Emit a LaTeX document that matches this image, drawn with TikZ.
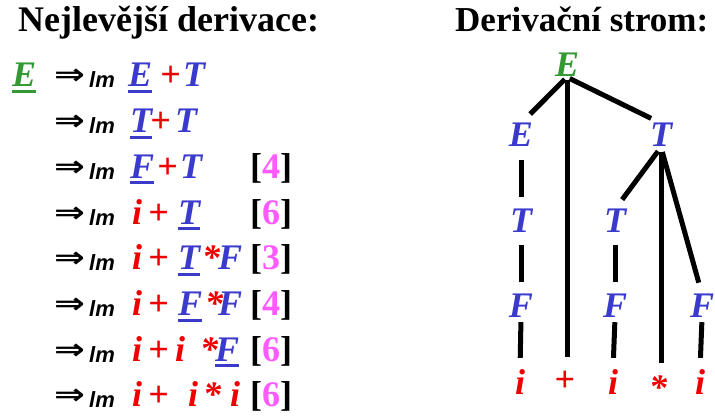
\documentclass[tikz,border=0pt]{standalone}
\usepackage{graphicx}
\usepackage{fontspec}
\setmainfont{Liberation Serif}
\newfontfamily\lmfont{Liberation Sans}
\newfontfamily\djv{DejaVu Sans}
\definecolor{ublue}{RGB}{58,58,204}
\definecolor{ured}{RGB}{238,0,0}
\definecolor{ugreen}{RGB}{51,153,51}
\definecolor{upink}{RGB}{255,90,255}
\newcommand\putat[2]{\rlap{\hspace*{#1pt}#2}}
\newcommand\ulx[2]{\setbox0=\hbox{#2}\rlap{\color{#1}\rule[-6pt]{\wd0}{3pt}}\box0}
\newcommand\Bl[1]{\textcolor{ublue}{#1}}
\newcommand\Rd[1]{\textcolor{ured}{#1}}
\newcommand\UB[1]{\ulx{ublue}{\textcolor{ublue}{#1}}}
\newcommand\Num[1]{[\textcolor{upink}{#1}]}
\begin{document}
\begin{tikzpicture}[x=1pt,y=-1pt,
  txt/.style={inner sep=0pt,anchor=base west,font=\fontsize{36}{40}\selectfont\bfseries\itshape},
  ttl/.style={inner sep=0pt,anchor=base west,font=\fontsize{36}{40}\selectfont\bfseries},
  brk/.style={inner sep=0pt,anchor=base west,font=\fontsize{36}{40}\selectfont\bfseries},
  arr/.style={inner sep=0pt,anchor=base west,font=\djv\fontsize{32}{36}\selectfont\bfseries},
  sub/.style={inner sep=0pt,anchor=base west,font=\lmfont\fontsize{22}{24}\selectfont\bfseries\itshape},
  sym/.style={inner sep=0pt,anchor=base,font=\fontsize{36}{40}\selectfont\bfseries\itshape},
  edge/.style={line width=5pt}]
\useasboundingbox (0,0) rectangle (715,419);
% titles
\node[ttl] (t1title) at (18,32) {Nejlevější derivace:};
\node[ttl,font=\fontsize{35}{40}\selectfont\bfseries] (t2title) at (455,32) {Derivační strom:};
% start symbol
\node[txt] (e0) at (12,87) {\ulx{ugreen}{\textcolor{ugreen}{E}}};
% arrows and lm
\foreach \k/\y in {1/87,2/132.7,3/178.4,4/224.1,5/269.9,6/315.6,7/361.3,8/407}{
  \node[arr] (a\k) at (54,\y) {\raisebox{2pt}{\scalebox{1.15}[0.9]{⇒}}};
  \node[sub] (s\k) at (89,\y+1) {lm};
}
% rows
\node[txt] (r1) at (128,87) {\putat{0}{\UB{E}}\putat{32}{\Rd{+}}\putat{55}{\Bl{T}}\hspace*{80pt}};
\node[txt] (r2) at (128,132.7) {\putat{2}{\UB{T}}\putat{22}{\Rd{+}}\putat{47}{\Bl{T}}\hspace*{80pt}};
\node[txt] (r3) at (128,178.4) {\putat{2}{\UB{F}}\putat{29}{\Rd{+}}\putat{52}{\Bl{T}}\hspace*{80pt}};
\node[txt] (r4) at (128,224.1) {\putat{4}{\Rd{i}}\putat{20}{\Rd{+}}\putat{50}{\UB{T}}\hspace*{80pt}};
\node[txt] (r5) at (128,269.9) {\putat{4}{\Rd{i}}\putat{20}{\Rd{+}}\putat{50}{\UB{T}}\putat{74}{\Rd{*}}\putat{90}{\Bl{F}}\hspace*{118pt}};
\node[txt] (r6) at (128,315.6) {\putat{4}{\Rd{i}}\putat{20}{\Rd{+}}\putat{50}{\UB{F}}\putat{77}{\Rd{*}}\putat{90}{\Bl{F}}\hspace*{118pt}};
\node[txt] (r7) at (128,361.3) {\putat{4}{\Rd{i}}\putat{20}{\Rd{+}}\putat{47}{\Rd{i}}\putat{72}{\Rd{*}}\putat{87}{\UB{F}}\hspace*{118pt}};
\node[txt] (r8) at (128,407) {\putat{4}{\Rd{i}}\putat{20}{\Rd{+}}\putat{60}{\Rd{i}}\putat{75}{\Rd{*}}\putat{102}{\Rd{i}}\hspace*{118pt}};
% rule numbers
\node[brk] (b3) at (250,178.4) {\Num{4}};
\node[brk] (b4) at (250,224.1) {\Num{6}};
\node[brk] (b5) at (250,269.9) {\Num{3}};
\node[brk] (b6) at (250,315.6) {\Num{4}};
\node[brk] (b7) at (250,361.3) {\Num{6}};
\node[brk] (b8) at (250,407) {\Num{6}};
% tree nodes
\node[sym,text=ugreen] (root) at (567,77) {E};
\node[sym,text=ublue] (e1) at (521,147) {E};
\node[sym,text=ublue] (t1) at (661,147) {T};
\node[sym,text=ublue] (t2) at (521,233) {T};
\node[sym,text=ublue] (t3) at (615,233) {T};
\node[sym,text=ublue] (f1) at (521,318) {F};
\node[sym,text=ublue] (f2) at (615,318) {F};
\node[sym,text=ublue] (f3) at (702,318) {F};
\node[sym,text=ured] (i1) at (520,395) {i};
\node[sym,text=ured,font=\fontsize{36}{40}\selectfont\bfseries] (plus) at (565,392) {+};
\node[sym,text=ured] (i2) at (613,395) {i};
\node[sym,text=ured] (star) at (658,400) {*};
\node[sym,text=ured] (i3) at (700,395) {i};
% tree edges
\draw[edge,shorten <=3pt,shorten >=13pt] (root.south) -- (e1.north);
\draw[edge,shorten <=3pt,shorten >=11pt] (root.south) -- (t1.north);
\draw[edge,shorten <=3pt] (root.south) -- ([yshift=14pt]root.south |- plus.north);
\draw[edge,shorten <=13pt,shorten >=12pt] (e1.south) -- (t2.north);
\draw[edge,shorten <=12pt,shorten >=12pt] (t2.south) -- (f1.north);
\draw[edge,shorten <=4pt,shorten >=12pt] (f1.south) -- (i1.north);
\draw[edge,shorten <=5pt,shorten >=12pt] (t1.south) -- (t3.north);
\draw[edge,shorten <=5pt] (t1.south) -- ([yshift=13pt]t1.south |- star.north);
\draw[edge,shorten <=5pt,shorten >=12pt] (t1.south) -- (f3.north);
\draw[edge,shorten <=12pt,shorten >=12pt] (t3.south) -- (f2.north);
\draw[edge,shorten <=4pt,shorten >=12pt] (f2.south) -- (i2.north);
\draw[edge,shorten <=4pt,shorten >=12pt] (f3.south) -- (i3.north);
\end{tikzpicture}
\end{document}
